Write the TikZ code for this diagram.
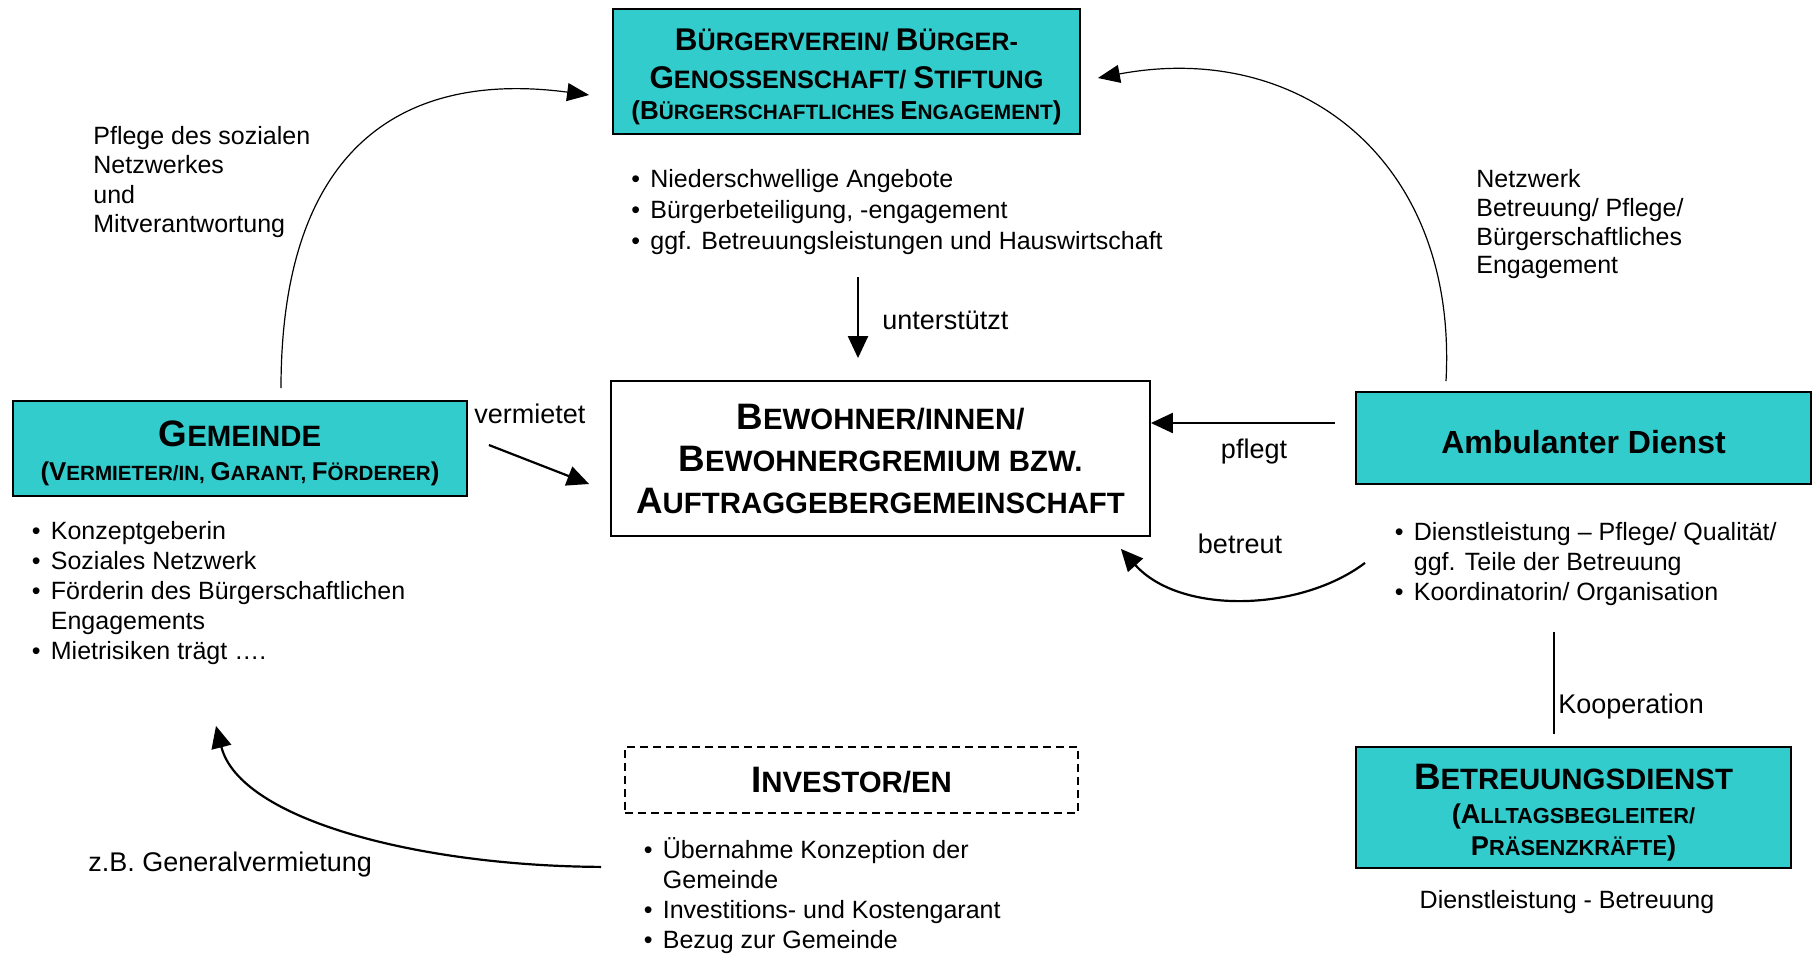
\documentclass[tikz,border=0pt]{standalone}
\usepackage{fontspec}
\setmainfont{Liberation Sans}
\usetikzlibrary{arrows.meta,calc}
\definecolor{boxteal}{RGB}{51,204,204}
\newcommand\Cp[2]{{\fontsize{#1}{0}\selectfont #2}}
\newcommand\itm{\makebox[9.5pt][l]{•}}
\newcommand\ind{\hspace*{9.5pt}}
\begin{document}
\begin{tikzpicture}[x=0.5pt,y=-0.5pt,
  box/.style={draw=black, line width=0.9pt, fill=boxteal, inner sep=0pt, align=center},
  wbox/.style={draw=black, line width=0.9pt, fill=white, inner sep=0pt, align=center},
  txt/.style={inner sep=0pt, align=left, anchor=north west},
  lbl/.style={inner sep=0pt, font=\fontsize{13.5}{16}\selectfont},
  arr/.style={-{Triangle[length=11pt,width=10pt]}, line width=1.1pt},
  arcline/.style={-{Triangle[length=11pt,width=9pt]}, line width=0.6pt}]
\useasboundingbox (0,0) rectangle (1814,953);

% boxes
\node[box, minimum width=233.5pt, minimum height=62.5pt,
  font=\bfseries\fontsize{12.6}{19}\selectfont] (bv) at (846.5,71.5)
  {\rule{0pt}{15.8pt}\Cp{15.7}{B}ÜRGERVEREIN/ \Cp{15.7}{B}ÜRGER-\\
   \Cp{15.7}{G}ENOSSENSCHAFT/ \Cp{15.7}{S}TIFTUNG\\[-3.5pt]
   {\fontsize{10.4}{17}\selectfont\Cp{13}{(B}ÜRGERSCHAFTLICHES \Cp{13}{E}NGAGEMENT\Cp{13}{)}}};

\node[wbox, minimum width=269.5pt, minimum height=77.5pt,
  font=\bfseries\fontsize{14.7}{21}\selectfont] (bw) at (880.5,458.5)
  {\Cp{18.4}{B}EWOHNER/INNEN/\\
   \Cp{18.4}{B}EWOHNERGREMIUM BZW.\\
   \Cp{18.4}{A}UFTRAGGEBERGEMEINSCHAFT};

\node[box, minimum width=227pt, minimum height=47.5pt,
  font=\bfseries\fontsize{14.7}{18.5}\selectfont] (gem) at (240,448.5)
  {\rule{0pt}{17.5pt}\Cp{18.4}{G}EMEINDE\\[-1.7pt]
   {\fontsize{10.3}{18.5}\selectfont\Cp{12.9}{(V}ERMIETER/IN, \Cp{12.9}{G}ARANT, \Cp{12.9}{F}ÖRDERER\Cp{12.9}{)}}};

\node[box, minimum width=227.5pt, minimum height=46pt,
  font=\bfseries\fontsize{16}{19}\selectfont] (amb) at (1583.5,438)
  {\rule{0pt}{15.2pt}Ambulanter Dienst};

\node[box, minimum width=217.5pt, minimum height=60.5pt,
  font=\bfseries\fontsize{14.7}{17}\selectfont] (bd) at (1573.5,807.5)
  {\rule{0pt}{17.8pt}\Cp{18.4}{B}ETREUUNGSDIENST\\[-0.2pt]
   {\fontsize{10.9}{15.5}\selectfont\Cp{13.6}{(A}LLTAGSBEGLEITER/}\\[-1.2pt]
   {\fontsize{10.9}{15.5}\selectfont\Cp{13.6}{P}RÄSENZKRÄFTE\Cp{13.6}{)}}};

\node[wbox, dash pattern=on 4pt off 2.5pt, minimum width=226.5pt, minimum height=33pt,
  font=\bfseries\fontsize{14.7}{18}\selectfont] (inv) at (851.5,780)
  {\Cp{18.4}{I}NVESTOR/EN};

% text blocks
\node[txt, font=\fontsize{12.5}{14.7}\selectfont] (tleft) at (93,120)
  {\rule{0pt}{12pt}Pflege des sozialen\\Netzwerkes\\und\\Mitverantwortung};
\node[txt, font=\fontsize{12.5}{14.4}\selectfont] (tright) at (1476,163)
  {\rule{0pt}{12pt}Netzwerk\\Betreuung/ Pflege/\\Bürgerschaftliches\\Engagement};
\node[txt, font=\fontsize{12.5}{15.6}\selectfont] (bvlist) at (631,163)
  {\rule{0pt}{12pt}\itm Niederschwellige Angebote\\
   \itm Bürgerbeteiligung, -engagement\\
   \itm ggf. Betreuungsleistungen und Hauswirtschaft};
\node[txt, font=\fontsize{12.5}{15}\selectfont] (gemlist) at (31.5,515)
  {\rule{0pt}{12pt}\itm Konzeptgeberin\\
   \itm Soziales Netzwerk\\
   \itm Förderin des Bürgerschaftlichen\\
   \ind Engagements\\
   \itm Mietrisiken trägt ….};
\node[txt, font=\fontsize{12.5}{15}\selectfont] (amblist) at (1394.5,516)
  {\rule{0pt}{12pt}\itm Dienstleistung – Pflege/ Qualität/\\
   \ind ggf. Teile der Betreuung\\
   \itm Koordinatorin/ Organisation};
\node[txt, font=\fontsize{12.5}{15}\selectfont] (invlist) at (643.5,834)
  {\rule{0pt}{12pt}\itm Übernahme Konzeption der\\
   \ind Gemeinde\\
   \itm Investitions- und Kostengarant\\
   \itm Bezug zur Gemeinde};

% labels
\node[lbl, anchor=west] (lunt) at (882,320) {unterstützt};
\node[lbl, anchor=west] (lverm) at (474,414) {vermietet};
\node[lbl] (lpfl) at (1254,451.5) {pflegt};
\node[lbl] (lbet) at (1240,544) {betreut};
\node[lbl, anchor=west] (lkoop) at (1558,706.5) {Kooperation};
\node[inner sep=0pt, font=\fontsize{12.5}{15}\selectfont] (ldb) at (1567,902.5) {Dienstleistung - Betreuung};
\node[lbl, anchor=west] (lgen) at (88,864.5) {z.B. Generalvermietung};

% connectors
\draw[arr] ($(bw.north)+(-22.5,-103)$) -- ($(bw.north)+(-22.5,-22)$);
\draw[arr] ($(gem.east)+(21,-3.5)$) -- ($(bw.west)+(-21,25.5)$);
\draw[arr] ($(amb.west)+(-20,-15)$) -- ($(bw.east)+(0,-35.5)$);
\draw[arr] ($(amb.south)+(-218.5,78)$) .. controls (1300,612) and (1180,615) .. ($(bw.south east)+(-30,12)$);
\draw[arcline] ($(gem.north)+(41,-12)$) .. controls (281,150) and (400,70) .. ($(bv.west)+(-23,23.5)$);
\draw[arcline] ($(amb.north)+(-137.5,-10)$) .. controls (1458,160) and (1300,40) .. ($(bv.east)+(17,6.5)$);
\draw[arr] ($(inv.south west)+(-23,53)$) .. controls (420,866) and (240,820) .. ($(gem.south)+(-24,229)$);
\draw[line width=1pt] ($(amb.south)+(-29.5,147)$) -- ($(bd.north)+(-19.5,-12)$);
\end{tikzpicture}
\end{document}
